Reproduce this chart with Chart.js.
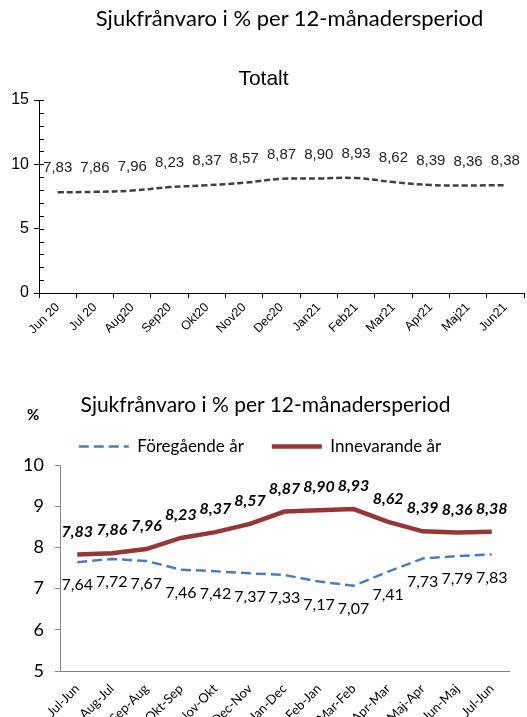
<!DOCTYPE html>
<html>
<head>
<meta charset="utf-8">
<script src="https://cdn.jsdelivr.net/npm/chart.js@4"></script>
<style>
  html, body { margin: 0; padding: 0; background: #fff; }
  body { width: 527px; height: 717px; position: relative; overflow: hidden; }
  canvas { position: absolute; left: 0; }
  #cA { top: 0; }
  #cB { top: 360px; }
  .t { position: absolute; white-space: nowrap; color: #000; }
  #titleA { top: 3px; left: 0; width: 527px; text-align: center; font: 22px Lato, "Noto Sans", sans-serif; line-height: 30px; padding-left: 52px; box-sizing: border-box; }
  #subA { top: 64px; left: 0; width: 527px; text-align: center; font: 21px "Liberation Sans", Arial, sans-serif; line-height: 28px; }
  #titleB { top: 389px; left: 0; width: 527px; text-align: center; font: 21px Lato, "Noto Sans", sans-serif; line-height: 30px; padding-left: 4px; box-sizing: border-box; }
  #pct { top: 404px; left: 27px; font: bold 15px Lato, "Noto Sans", sans-serif; line-height: 20px; }
</style>
</head>
<body>
<canvas id="cA" width="527" height="350"></canvas>
<canvas id="cB" width="527" height="357"></canvas>
<div class="t" id="titleA">Sjukfrånvaro i % per 12-månadersperiod</div>
<div class="t" id="subA">Totalt</div>
<div class="t" id="titleB">Sjukfrånvaro i % per 12-månadersperiod</div>
<div class="t" id="pct">%</div>
<script>
// ---------- data ----------
const monthsTop = ['Jun 20','Jul 20','Aug20','Sep20','Okt20','Nov20','Dec20','Jan21','Feb21','Mar21','Apr21','Maj21','Jun21'];
const totalt = [7.83, 7.86, 7.96, 8.23, 8.37, 8.57, 8.87, 8.90, 8.93, 8.62, 8.39, 8.36, 8.38];
const periods = ['Jul-Jun','Aug-Jul','Sep-Aug','Okt-Sep','Nov-Okt','Dec-Nov','Jan-Dec','Feb-Jan','Mar-Feb','Apr-Mar','Maj-Apr','Jun-Maj','Jul-Jun'];
const foregaende = [7.64, 7.72, 7.67, 7.46, 7.42, 7.37, 7.33, 7.17, 7.07, 7.41, 7.73, 7.79, 7.83];
const innevarande = [7.83, 7.86, 7.96, 8.23, 8.37, 8.57, 8.87, 8.90, 8.93, 8.62, 8.39, 8.36, 8.38];
const topTickValues = [0, 5, 10, 15];
const bottomTickValues = [5, 6, 7, 8, 9, 10];

Chart.defaults.devicePixelRatio = 1;
Chart.defaults.animation = false;

const fmt = v => v.toFixed(2).replace('.', ',');

const valueLabels = {
  id: 'valueLabels',
  afterDatasetsDraw(chart) {
    const ctx = chart.ctx;
    chart.data.datasets.forEach((ds, i) => {
      const cfg = ds.valueLabel;
      if (!cfg) return;
      const meta = chart.getDatasetMeta(i);
      ctx.save();
      ctx.font = cfg.font;
      ctx.fillStyle = cfg.color;
      ctx.textAlign = 'center';
      ctx.textBaseline = 'middle';
      meta.data.forEach((pt, j) => {
        ctx.fillText(fmt(ds.data[j]), pt.x, pt.y + cfg.dy);
      });
      ctx.restore();
    });
  }
};

const innerTicks = {
  id: 'innerTicks',
  afterDraw(chart) {
    const s = chart.scales.y;
    const ctx = chart.ctx;
    ctx.save();
    ctx.strokeStyle = '#000';
    ctx.lineWidth = 1;
    ctx.beginPath();
    for (let v = s.min; v <= s.max; v++) {
      const y = Math.round(s.getPixelForValue(v)) + 0.5;
      ctx.moveTo(s.right, y);
      ctx.lineTo(s.right + 5, y);
    }
    ctx.stroke();
    ctx.restore();
  }
};

// ---------- top chart ----------
new Chart(document.getElementById('cA'), {
  type: 'line',
  data: {
    labels: monthsTop,
    datasets: [{
      label: 'Totalt',
      data: totalt,
      borderColor: '#404040',
      borderWidth: 2.5,
      borderDash: [6, 3],
      tension: 0.4,
      pointRadius: 0,
      fill: false,
      valueLabel: { font: '15px "Liberation Sans", Arial, sans-serif', color: '#222', dy: -24 }
    }]
  },
  options: {
    responsive: false,
    layout: { padding: { top: 100, right: 3, left: 0, bottom: 0 } },
    plugins: { legend: { display: false }, title: { display: false }, tooltip: { enabled: false } },
    scales: {
      x: {
        type: 'category',
        offset: true,
        grid: { offset: true, drawOnChartArea: false, tickLength: 5, color: '#000' },
        border: { color: '#000', width: 1 },
        ticks: {
          maxRotation: 45, minRotation: 45, autoSkip: false, padding: 2,
          color: '#000', font: { family: '"Liberation Sans", Arial, sans-serif', size: 12.5 }
        },
        afterFit(scale) { scale.height = 57; }
      },
      y: {
        min: 0, max: 15,
        ticks: {
          stepSize: 1, autoSkip: false, padding: 5,
          color: '#000', font: { family: '"Liberation Sans", Arial, sans-serif', size: 16 },
          callback: v => topTickValues.includes(v) ? v : ''
        },
        grid: {
          drawOnChartArea: false, tickLength: 5,
          color: ctx => (ctx.tick && topTickValues.includes(ctx.tick.value)) ? '#000' : 'rgba(0,0,0,0)'
        },
        border: { color: '#000', width: 1 },
        afterFit(scale) { scale.width = 39; }
      }
    }
  },
  plugins: [valueLabels, innerTicks]
});

// ---------- bottom chart ----------
new Chart(document.getElementById('cB'), {
  type: 'line',
  data: {
    labels: periods,
    datasets: [{
      label: 'Föregående år',
      data: foregaende,
      borderColor: '#4a7ebb',
      borderWidth: 2.5,
      borderDash: [10, 5],
      tension: 0,
      pointRadius: 0,
      fill: false,
      valueLabel: { font: '16px Lato, "Noto Sans", sans-serif', color: '#000', dy: 23 }
    }, {
      label: 'Innevarande år',
      data: innevarande,
      borderColor: '#953735',
      borderWidth: 4.5,
      tension: 0,
      pointRadius: 0,
      fill: false,
      valueLabel: { font: 'italic bold 16px Lato, "Noto Sans", sans-serif', color: '#000', dy: -23 }
    }]
  },
  options: {
    responsive: false,
    layout: { padding: { top: 50, right: 18, left: 11, bottom: 0 } },
    plugins: {
      tooltip: { enabled: false },
      title: { display: false },
      legend: {
        display: true,
        position: 'top',
        labels: {
          usePointStyle: true,
          pointStyle: 'line',
          pointStyleWidth: 50,
          padding: 28,
          color: '#000',
          font: { family: 'Lato, "Noto Sans", sans-serif', size: 17 },
          generateLabels(chart) {
            const items = Chart.defaults.plugins.legend.labels.generateLabels(chart);
            return items.map(it => {
              const ds = chart.data.datasets[it.datasetIndex];
              it.lineDash = ds.borderDash || [];
              it.lineWidth = ds.borderWidth;
              it.strokeStyle = ds.borderColor;
              it.fillStyle = ds.borderColor;
              it.pointStyle = 'line';
              it.fontColor = '#000';
              return it;
            });
          }
        }
      }
    },
    scales: {
      x: {
        type: 'category',
        offset: true,
        grid: { display: false, drawTicks: false },
        border: { color: '#868686', width: 1 },
        ticks: {
          maxRotation: 45, minRotation: 45, autoSkip: false, padding: 10,
          color: '#000', font: { family: 'Lato, "Noto Sans", sans-serif', size: 13 }
        },
        afterFit(scale) { scale.height = 46; }
      },
      y: {
        min: 5, max: 10,
        ticks: {
          stepSize: 1, padding: 11,
          color: '#000', font: { family: 'Lato, "Noto Sans", sans-serif', size: 18 },
          callback: v => bottomTickValues.includes(v) ? v : ''
        },
        grid: { drawOnChartArea: false, tickLength: 5, color: '#868686' },
        border: { color: '#868686', width: 1 },
        afterFit(scale) { scale.width = 49; }
      }
    }
  },
  plugins: [valueLabels]
});
</script>
</body>
</html>
